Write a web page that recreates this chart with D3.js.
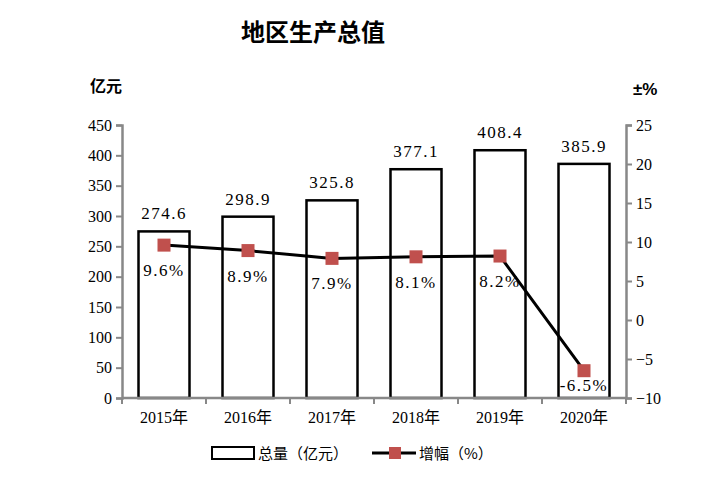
<!DOCTYPE html>
<html>
<head>
<meta charset="utf-8">
<script src="https://cdn.jsdelivr.net/npm/d3@7"></script>
<style>
  body { margin: 0; background: #fff; }
</style>
</head>
<body>
<div id="chart"></div>
<script>
// chart data
var years = ["2015年", "2016年", "2017年", "2018年", "2019年", "2020年"];
var totals = [274.6, 298.9, 325.8, 377.1, 408.4, 385.9];
var growth = [9.6, 8.9, 7.9, 8.1, 8.2, -6.5];
var leftTicks = [0, 50, 100, 150, 200, 250, 300, 350, 400, 450];
var rightTicks = [-10, -5, 0, 5, 10, 15, 20, 25];

var width = 710, height = 502;
var plot = { left: 122, right: 626, top: 125, bottom: 398 };
var serif = "Liberation Serif, Noto Sans CJK SC, serif";
var cjk = "Noto Sans CJK SC, sans-serif";

var svg = d3.select("#chart").append("svg")
    .attr("width", width)
    .attr("height", height);

var xOuter = d3.scaleBand().domain(years).range([plot.left, plot.right]);
var y = d3.scaleLinear().domain([0, 450]).range([plot.bottom, plot.top]);
var y2 = d3.scaleLinear().domain([-10, 25]).range([plot.bottom, plot.top]);
var barW = 51;

// title + unit labels
svg.append("text")
    .attr("x", 313).attr("y", 41)
    .attr("text-anchor", "middle")
    .style("font-family", cjk)
    .style("font-size", "24px").style("font-weight", "bold")
    .text("地区生产总值");

svg.append("text")
    .attr("x", 90).attr("y", 92)
    .style("font-family", cjk)
    .style("font-size", "16px").style("font-weight", "bold")
    .text("亿元");

svg.append("text")
    .attr("x", 633).attr("y", 95)
    .style("font-size", "17px").style("font-weight", "bold")
    .style("font-family", "Liberation Sans, sans-serif")
    .text("±%");

// bars
svg.selectAll(".bar")
    .data(totals)
  .enter().append("rect")
    .attr("class", "bar")
    .attr("x", function(d, i) { return xOuter(years[i]) + (xOuter.bandwidth() - barW) / 2; })
    .attr("y", function(d) { return y(d); })
    .attr("width", barW)
    .attr("height", function(d) { return y(0) - y(d); })
    .attr("fill", "#fff")
    .attr("stroke", "#000")
    .attr("stroke-width", 2.5);

svg.selectAll(".barLabel")
    .data(totals)
  .enter().append("text")
    .attr("class", "barLabel")
    .attr("x", function(d, i) { return xOuter(years[i]) + xOuter.bandwidth() / 2; })
    .attr("y", function(d) { return y(d) - 12; })
    .attr("text-anchor", "middle")
    .style("font-family", serif)
    .style("font-size", "17px")
    .style("letter-spacing", "1.5px")
    .text(function(d) { return d.toFixed(1); });

// axes
var leftAxis = svg.append("g")
    .attr("transform", "translate(" + plot.left + ",0)")
    .call(d3.axisLeft(y).tickValues(leftTicks).tickSize(6).tickPadding(4));

var rightAxis = svg.append("g")
    .attr("transform", "translate(" + plot.right + ",0)")
    .call(d3.axisRight(y2).tickValues(rightTicks).tickSize(6).tickPadding(4)
      .tickFormat(function(d) { return d < 0 ? "\u2212" + Math.abs(d) : d; }));

var bottomAxis = svg.append("g")
    .attr("transform", "translate(0," + plot.bottom + ")")
    .call(d3.axisBottom(xOuter).tickSize(0).tickPadding(14));

// boundary ticks between categories
svg.selectAll(".catTick")
    .data(d3.range(years.length + 1))
  .enter().append("line")
    .attr("class", "catTick")
    .attr("x1", function(i) { return plot.left + i * xOuter.step(); })
    .attr("x2", function(i) { return plot.left + i * xOuter.step(); })
    .attr("y1", plot.bottom)
    .attr("y2", plot.bottom + 6)
    .attr("stroke", "#888")
    .attr("stroke-width", 2);

[leftAxis, rightAxis, bottomAxis].forEach(function(g) {
  g.attr("font-family", null);
  g.selectAll("path.domain").attr("stroke", "#888").attr("stroke-width", 2.5);
  g.selectAll(".tick line").attr("stroke", "#888").attr("stroke-width", 2);
  g.selectAll("text")
      .attr("fill", "#000")
      .style("font-size", "16px")
      .style("font-family", serif);
});
bottomAxis.selectAll("path.domain").attr("d", "M" + plot.left + ",0H" + plot.right);

// growth line
var cx = function(i) { return xOuter(years[i]) + xOuter.bandwidth() / 2; };
var line = d3.line()
    .x(function(d, i) { return cx(i); })
    .y(function(d) { return y2(d); });

svg.append("path")
    .datum(growth)
    .attr("d", line)
    .attr("fill", "none")
    .attr("stroke", "#000")
    .attr("stroke-width", 3);

svg.selectAll(".marker")
    .data(growth)
  .enter().append("rect")
    .attr("class", "marker")
    .attr("x", function(d, i) { return cx(i) - 6.5; })
    .attr("y", function(d) { return y2(d) - 6.5; })
    .attr("width", 13)
    .attr("height", 13)
    .attr("fill", "#C0504D");

svg.selectAll(".growthLabel")
    .data(growth)
  .enter().append("text")
    .attr("class", "growthLabel")
    .attr("x", function(d, i) { return cx(i); })
    .attr("y", function(d) { return Math.min(y2(d) + 31, 391); })
    .attr("text-anchor", "middle")
    .style("font-family", serif)
    .style("font-size", "17px")
    .style("letter-spacing", "1.5px")
    .text(function(d) { return (d < 0 ? "-" + Math.abs(d).toFixed(1) : d.toFixed(1)) + "%"; });

// legend
var legend = svg.append("g");
legend.append("rect")
    .attr("x", 212).attr("y", 447)
    .attr("width", 42).attr("height", 12)
    .attr("fill", "#fff").attr("stroke", "#000").attr("stroke-width", 2);
legend.append("text")
    .attr("x", 258).attr("y", 459)
    .style("font-family", cjk)
    .style("font-size", "15px")
    .text("总量（亿元）");
legend.append("line")
    .attr("x1", 372).attr("x2", 416).attr("y1", 453).attr("y2", 453)
    .attr("stroke", "#000").attr("stroke-width", 3);
legend.append("rect")
    .attr("x", 389).attr("y", 447).attr("width", 12).attr("height", 12)
    .attr("fill", "#C0504D");
legend.append("text")
    .attr("x", 419).attr("y", 459)
    .style("font-family", cjk)
    .style("font-size", "15px")
    .text("增幅（%）");
</script>
</body>
</html>
